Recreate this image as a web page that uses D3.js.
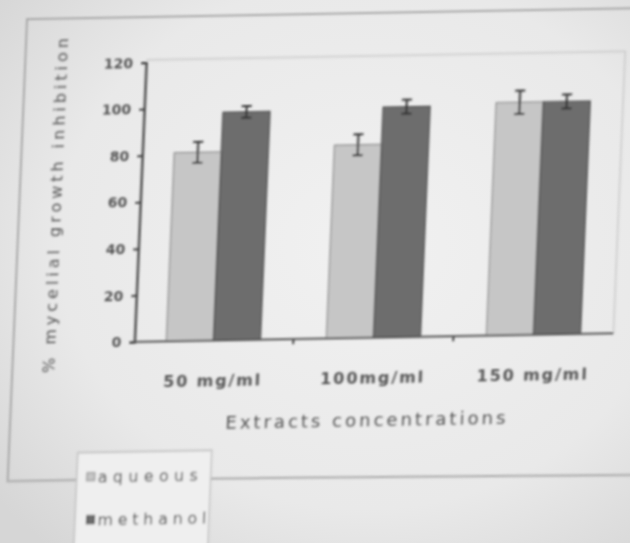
<!DOCTYPE html>
<html>
<head>
<meta charset="utf-8">
<script src="https://cdn.jsdelivr.net/npm/d3@7/dist/d3.min.js"></script>
<style>
  html, body { margin: 0; padding: 0; background: #e2e2e2; }
  svg { display: block; }
  text { font-family: "DejaVu Sans", "Liberation Sans", Arial, sans-serif; fill: #555; }
</style>
</head>
<body>
<svg id="chart" width="630" height="543"></svg>
<script>
// Mycelial growth inhibition (%) by extract concentration
const categories = ["50 mg/ml", "100mg/ml", "150 mg/ml"];
const seriesNames = ["aqueous", "methanol"];
const aqueousValues = [81, 83, 100];
const methanolValues = [98, 99, 100];
const aqueousErrors = [4.5, 4.5, 5];
const methanolErrors = [2.5, 3, 3];
const yTicks = [0, 20, 40, 60, 80, 100, 120];

const W = 630, H = 543;
const plot = { left: 136, right: 615, top: 57, bottom: 339 };

const svg = d3.select("#chart");
const defs = svg.append("defs");

// paper background with darker edges
const bg = defs.append("radialGradient").attr("id", "paper")
  .attr("cx", "58%").attr("cy", "45%").attr("r", "75%");
bg.append("stop").attr("offset", "0%").attr("stop-color", "#f1f1f1");
bg.append("stop").attr("offset", "65%").attr("stop-color", "#e9e9e9");
bg.append("stop").attr("offset", "100%").attr("stop-color", "#d6d6d6");

defs.append("filter").attr("id", "soft")
  .attr("x", "-5%").attr("y", "-5%").attr("width", "110%").attr("height", "110%")
  .append("feGaussianBlur").attr("stdDeviation", 0.9);

svg.append("rect").attr("width", W).attr("height", H).attr("fill", "url(#paper)");

// the printed page sits slightly askew
const root = svg.append("g")
  .attr("transform", "matrix(1,-0.018,-0.042,1,12.6,5.4)")
  .attr("filter", "url(#soft)");

// outer chart frame
root.append("path")
  .attr("d", `M700,14 L15,14 L15,476 L84,476 M218,477 L640,481`)
  .attr("fill", "none").attr("stroke", "#a9a9a9").attr("stroke-width", 2);

// plot area border (top and right)
root.append("path")
  .attr("d", `M${plot.left},${plot.top} L${plot.right},${plot.top} L${plot.right},${plot.bottom}`)
  .attr("fill", "none").attr("stroke", "#bdbdbd").attr("stroke-width", 1);

const x0 = d3.scaleBand().domain(categories)
  .range([plot.left - 1, plot.right])
  .paddingInner(0.4125).paddingOuter(0.206);
const x1 = d3.scaleBand().domain(seriesNames).range([0, x0.bandwidth()]).padding(0);
const y = d3.scaleLinear().domain([0, 120]).range([plot.bottom, plot.top + 2.5]);

const color = d3.scaleOrdinal().domain(seriesNames).range(["#c6c6c6", "#6d6d6d"]);
const edge = d3.scaleOrdinal().domain(seriesNames).range(["#8a8a8a", "#4b4b4b"]);

const rows = categories.map((c, i) => ({
  cat: c,
  bars: [
    { key: "aqueous", value: aqueousValues[i], err: aqueousErrors[i] },
    { key: "methanol", value: methanolValues[i], err: methanolErrors[i] }
  ]
}));

const groups = root.selectAll("g.cat").data(rows).join("g")
  .attr("class", "cat")
  .attr("transform", d => `translate(${x0(d.cat)},0)`);

groups.selectAll("rect").data(d => d.bars).join("rect")
  .attr("x", d => x1(d.key))
  .attr("y", d => y(d.value))
  .attr("width", x1.bandwidth())
  .attr("height", d => y(0) - y(d.value))
  .attr("fill", d => color(d.key))
  .attr("stroke", d => edge(d.key))
  .attr("stroke-width", 1.2);

// error bars
const eb = groups.selectAll("g.err").data(d => d.bars).join("g").attr("class", "err");
eb.append("line")
  .attr("x1", d => x1(d.key) + x1.bandwidth() / 2)
  .attr("x2", d => x1(d.key) + x1.bandwidth() / 2)
  .attr("y1", d => y(d.value + d.err))
  .attr("y2", d => y(d.value - d.err))
  .attr("stroke", "#333").attr("stroke-width", 2);
eb.selectAll("line.cap").data(d => [
    { k: d.key, v: d.value + d.err }, { k: d.key, v: d.value - d.err }
  ]).join("line").attr("class", "cap")
  .attr("x1", d => x1(d.k) + x1.bandwidth() / 2 - 5)
  .attr("x2", d => x1(d.k) + x1.bandwidth() / 2 + 5)
  .attr("y1", d => y(d.v)).attr("y2", d => y(d.v))
  .attr("stroke", "#333").attr("stroke-width", 2);

// y axis
const yAxis = root.append("g")
  .attr("transform", `translate(${plot.left},0)`)
  .call(d3.axisLeft(y).tickValues(yTicks).tickSize(5).tickPadding(8));
yAxis.select(".domain").attr("stroke", "#3c3c3c").attr("stroke-width", 2.2);
yAxis.selectAll(".tick line").attr("stroke", "#3c3c3c").attr("stroke-width", 2);
yAxis.selectAll(".tick text")
  .attr("font-size", 14).attr("font-weight", "bold").attr("fill", "#5c5c5c")
  .attr("font-family", "\"DejaVu Sans\", sans-serif");

// x axis with ticks between categories
const xAxisG = root.append("g").attr("transform", `translate(0,${plot.bottom})`);
xAxisG.append("line")
  .attr("x1", plot.left).attr("x2", plot.right)
  .attr("stroke", "#555").attr("stroke-width", 2);
const boundaries = categories.slice(1).map(c => x0(c) - x0.step() * x0.paddingInner() / 2);
xAxisG.selectAll("line.sep").data(boundaries).join("line").attr("class", "sep")
  .attr("x1", d => d).attr("x2", d => d).attr("y1", 0).attr("y2", 5)
  .attr("stroke", "#444").attr("stroke-width", 2);

const labelLen = [97, 103, 110];
xAxisG.selectAll("text.cat").data(categories).join("text").attr("class", "cat")
  .attr("x", d => x0(d) + x0.bandwidth() / 2)
  .attr("y", 46)
  .attr("text-anchor", "middle")
  .attr("font-size", 16).attr("font-weight", "bold").attr("fill", "#5c5c5c")
  .attr("textLength", (d, i) => labelLen[i])
  .attr("lengthAdjust", "spacing")
  .text(d => d);

// axis titles
root.append("text")
  .attr("x", (plot.left + plot.right) / 2 - 5).attr("y", 428)
  .attr("text-anchor", "middle").attr("font-size", 18)
  .attr("textLength", 280).attr("lengthAdjust", "spacing")
  .text("Extracts concentrations");

root.append("text")
  .attr("transform", "translate(57,201) rotate(-90)")
  .attr("text-anchor", "middle").attr("font-size", 16)
  .attr("textLength", 335).attr("lengthAdjust", "spacing")
  .text("% mycelial growth inhibition");

// legend
const legend = root.append("g");
legend.append("rect")
  .attr("x", 84).attr("y", 449).attr("width", 134).attr("height", 120)
  .attr("fill", "#efefef").attr("stroke", "#c2c2c2").attr("stroke-width", 1.5);
const items = legend.selectAll("g.item").data(seriesNames).join("g").attr("class", "item")
  .attr("transform", (d, i) => `translate(${94 + i * 1.5},${474 + i * 43})`);
items.append("rect")
  .attr("x", 0).attr("y", -5).attr("width", 8).attr("height", 8)
  .attr("fill", d => color(d)).attr("stroke", d => edge(d)).attr("stroke-width", 1);
items.append("text")
  .attr("x", 11).attr("y", 5).attr("font-size", 16)
  .attr("textLength", (d, i) => [100, 109][i]).attr("lengthAdjust", "spacing")
  .text(d => d);
</script>
</body>
</html>
